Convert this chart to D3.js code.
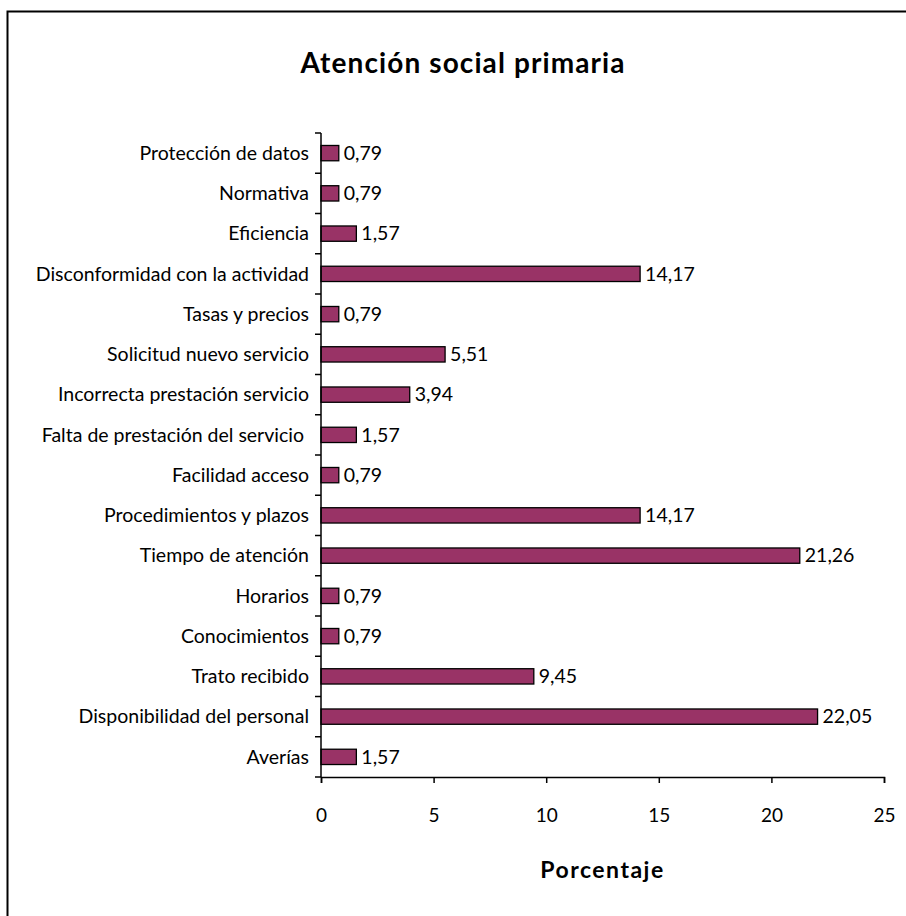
<!DOCTYPE html>
<html>
<head>
<meta charset="utf-8">
<script src="https://cdn.jsdelivr.net/npm/d3@7"></script>
<style>
    body { margin: 0; background: #fff; }
    svg text { font-family: Lato, "Open Sans", sans-serif; fill: #000; white-space: pre; }
</style>
</head>
<body>
<div id="chart"></div>
<script>
// categories from top to bottom
const categories = [
    'Protección de datos',
    'Normativa',
    'Eficiencia',
    'Disconformidad con la actividad',
    'Tasas y precios',
    'Solicitud nuevo servicio',
    'Incorrecta prestación servicio',
    'Falta de prestación del servicio ',
    'Facilidad acceso',
    'Procedimientos y plazos',
    'Tiempo de atención',
    'Horarios',
    'Conocimientos',
    'Trato recibido',
    'Disponibilidad del personal',
    'Averías'
];
const values = [0.79, 0.79, 1.57, 14.17, 0.79, 5.51, 3.94, 1.57, 0.79, 14.17, 21.26, 0.79, 0.79, 9.45, 22.05, 1.57];
const xTicks = [0, 5, 10, 15, 20, 25];

const W = 906, H = 916;
const M = { left: 321, right: 22, top: 133, bottom: 139 };
const FONT_SIZE = '19.5px';

const svg = d3.select('#chart').append('svg')
    .attr('width', W)
    .attr('height', H);

// frame (only top and left edges fall inside the picture)
svg.append('rect')
    .attr('x', 7.5).attr('y', 11.5)
    .attr('width', W + 10).attr('height', H + 10)
    .attr('fill', 'none')
    .attr('stroke', '#000')
    .attr('stroke-width', 2);

const x = d3.scaleLinear()
    .domain([0, 25])
    .range([M.left, W - M.right]);
const y = d3.scaleBand()
    .domain(categories)
    .range([M.top, H - M.bottom])
    .paddingInner(0.62)
    .paddingOuter(0.31);

const fmt = v => d3.format('.2f')(v).replace('.', ',');

svg.append('text')
    .attr('x', 463).attr('y', 73)
    .attr('text-anchor', 'middle')
    .style('font-size', '28px')
    .style('font-weight', 'bold')
    .style('letter-spacing', '1.1px')
    .text('Atención social primaria');

// bars
svg.append('g')
    .selectAll('rect')
    .data(values)
    .join('rect')
    .attr('x', x(0))
    .attr('y', (d, i) => y(categories[i]))
    .attr('width', d => x(d) - x(0))
    .attr('height', y.bandwidth())
    .attr('fill', '#993366')
    .attr('stroke', '#000')
    .attr('stroke-width', 1.3);

// value labels
svg.append('g')
    .selectAll('text')
    .data(values)
    .join('text')
    .attr('x', d => x(d) + 5)
    .attr('y', (d, i) => y(categories[i]) + y.bandwidth() / 2)
    .attr('dy', '0.35em')
    .style('font-size', FONT_SIZE)
    .text(d => fmt(d));

// y axis: line + separator ticks on the left
const step = y.step();
const yAxis = svg.append('g');
yAxis.append('line')
    .attr('x1', x(0)).attr('x2', x(0))
    .attr('y1', M.top).attr('y2', H - M.bottom)
    .attr('stroke', '#000').attr('stroke-width', 1.5);
yAxis.selectAll('line.tk')
    .data(d3.range(categories.length + 1))
    .join('line')
    .attr('class', 'tk')
    .attr('x1', x(0) - 6).attr('x2', x(0))
    .attr('y1', i => M.top + i * step)
    .attr('y2', i => M.top + i * step)
    .attr('stroke', '#000').attr('stroke-width', 1.5);
yAxis.selectAll('text')
    .data(categories)
    .join('text')
    .attr('x', x(0) - 12)
    .attr('y', d => y(d) + y.bandwidth() / 2)
    .attr('dy', '0.35em')
    .attr('text-anchor', 'end')
    .style('font-size', FONT_SIZE)
    .text(d => d);

// x axis
const xAxis = svg.append('g')
    .attr('transform', `translate(0,${H - M.bottom})`)
    .call(d3.axisBottom(x).tickValues(xTicks).tickSize(6).tickPadding(26).tickFormat(d => d));
xAxis.select('.domain').attr('stroke-width', 1.5);
xAxis.selectAll('.tick line').attr('stroke-width', 1.5);
xAxis.selectAll('.tick text')
    .style('font-size', '19px')
    .style('font-family', 'Lato, "Open Sans", sans-serif');

svg.append('text')
    .attr('x', (x(0) + x(25)) / 2).attr('y', 878)
    .attr('text-anchor', 'middle')
    .style('font-size', '23px')
    .style('font-weight', 'bold')
    .style('letter-spacing', '1.5px')
    .text('Porcentaje');
</script>
</body>
</html>
